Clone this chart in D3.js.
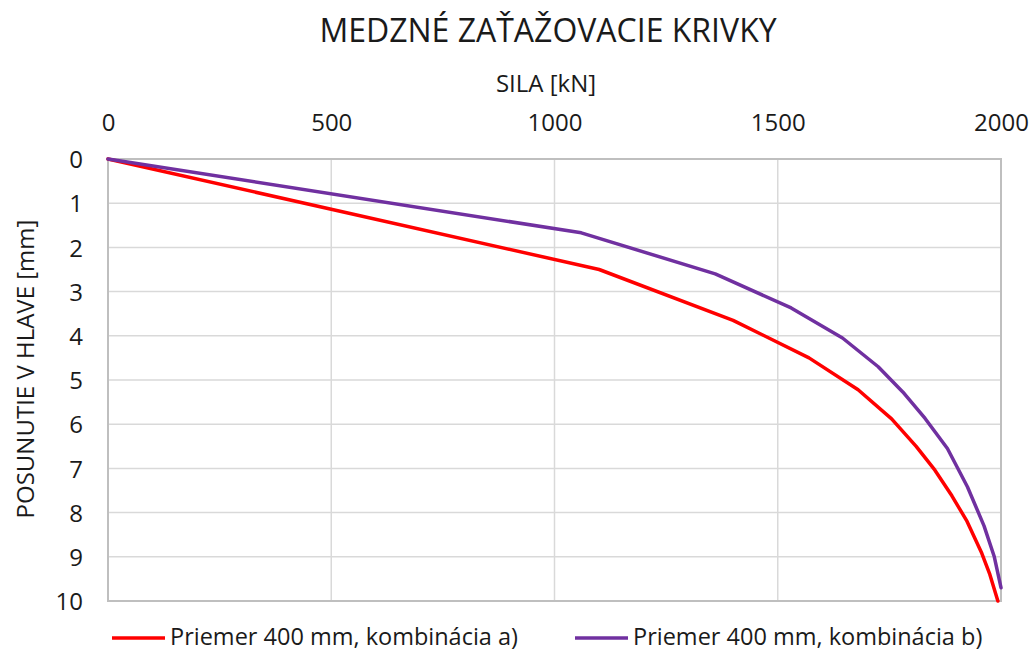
<!DOCTYPE html>
<html>
<head>
<meta charset="utf-8">
<script src="https://cdn.jsdelivr.net/npm/d3@7"></script>
<style>
  body { margin: 0; background: #fff; font-family: "Open Sans", sans-serif; }
</style>
</head>
<body>
<div id="chart"></div>
<script>
// force [kN] vs displacement [mm]
var seriesNames = ["Priemer 400 mm, kombinácia a)", "Priemer 400 mm, kombinácia b)"];
var seriesColors = ["#ff0000", "#7030a0"];

var forceA = [0, 1100, 1400, 1570, 1680, 1755, 1810, 1852, 1890, 1924, 1957, 1975, 1993];
var dispA  = [0, 2.5, 3.65, 4.5, 5.22, 5.88, 6.5, 7.04, 7.62, 8.2, 8.92, 9.4, 10];

var forceB = [0, 1060, 1360, 1530, 1645, 1725, 1780, 1830, 1880, 1925, 1962, 1985, 2000];
var dispB  = [0, 1.67, 2.6, 3.37, 4.05, 4.7, 5.27, 5.87, 6.55, 7.42, 8.3, 9.0, 9.7];

var xTicks = [0, 500, 1000, 1500, 2000];
var yTicks = [0, 1, 2, 3, 4, 5, 6, 7, 8, 9, 10];

var width = 1034, height = 653;
var margin = {left: 108, top: 159, right: 33, bottom: 52};

var svg = d3.select("#chart").append("svg")
  .attr("width", width)
  .attr("height", height);

var x = d3.scaleLinear().domain([0, 2000]).range([margin.left, width - margin.right]);
var y = d3.scaleLinear().domain([0, 10]).range([margin.top, height - margin.bottom]);

// grid
svg.append("g").selectAll("line.h")
  .data(yTicks.slice(1, -1))
  .enter().append("line")
  .attr("x1", x(0)).attr("x2", x(2000))
  .attr("y1", function(d) { return y(d); })
  .attr("y2", function(d) { return y(d); })
  .attr("stroke", "#d9d9d9").attr("stroke-width", 1.5);

svg.append("g").selectAll("line.v")
  .data(xTicks.slice(1, -1))
  .enter().append("line")
  .attr("y1", y(0)).attr("y2", y(10))
  .attr("x1", function(d) { return x(d); })
  .attr("x2", function(d) { return x(d); })
  .attr("stroke", "#d9d9d9").attr("stroke-width", 1.5);

// frame
svg.append("rect")
  .attr("x", x(0)).attr("y", y(0))
  .attr("width", x(2000) - x(0)).attr("height", y(10) - y(0))
  .attr("fill", "none").attr("stroke", "#bfbfbf").attr("stroke-width", 2);

// axes (labels only)
var xAxis = svg.append("g")
  .attr("transform", "translate(0,131)")
  .call(d3.axisTop(x).tickValues(xTicks).tickFormat(d3.format("d")).tickSize(0).tickPadding(0));
var yAxis = svg.append("g")
  .attr("transform", "translate(83,0)")
  .call(d3.axisLeft(y).tickValues(yTicks).tickFormat(d3.format("d")).tickSize(0).tickPadding(0));

[xAxis, yAxis].forEach(function(a) {
  a.select(".domain").remove();
  a.selectAll("text")
    .attr("font-family", "Open Sans")
    .attr("font-size", 24)
    .attr("fill", "#1a1a1a");
});
xAxis.selectAll("text").attr("y", 0).attr("dy", 0);
yAxis.selectAll("text").attr("x", 0).attr("dy", "0.36em");

// lines
var line = d3.line()
  .x(function(d) { return x(d[0]); })
  .y(function(d) { return y(d[1]); });

var series = [
  d3.zip(forceA, dispA),
  d3.zip(forceB, dispB)
];

svg.selectAll("path.series")
  .data(series)
  .enter().append("path")
  .attr("class", "series")
  .attr("d", line)
  .attr("fill", "none")
  .attr("stroke", function(d, i) { return seriesColors[i]; })
  .attr("stroke-width", 3.5)
  .attr("stroke-linejoin", "round")
  .attr("stroke-linecap", "round");

// titles
svg.append("text")
  .attr("x", 548).attr("y", 42)
  .attr("text-anchor", "middle")
  .attr("font-size", 32)
  .attr("fill", "#1a1a1a")
  .text("MEDZNÉ ZAŤAŽOVACIE KRIVKY");

svg.append("text")
  .attr("x", 546).attr("y", 92)
  .attr("text-anchor", "middle")
  .attr("font-size", 24)
  .attr("fill", "#1a1a1a")
  .text("SILA [kN]");

svg.append("text")
  .attr("transform", "translate(34,369) rotate(-90)")
  .attr("text-anchor", "middle")
  .attr("font-size", 24)
  .attr("fill", "#1a1a1a")
  .text("POSUNUTIE V HLAVE [mm]");

// legend
var legendX = [112, 575];
var legend = svg.selectAll("g.legend")
  .data(seriesNames)
  .enter().append("g")
  .attr("transform", function(d, i) { return "translate(" + legendX[i] + ",638)"; });

legend.append("line")
  .attr("x1", 0).attr("x2", 53)
  .attr("stroke", function(d, i) { return seriesColors[i]; })
  .attr("stroke-width", 3.5);

legend.append("text")
  .attr("x", 58).attr("y", 7)
  .attr("font-size", 23.5)
  .attr("fill", "#1a1a1a")
  .text(function(d) { return d; });
</script>
</body>
</html>
